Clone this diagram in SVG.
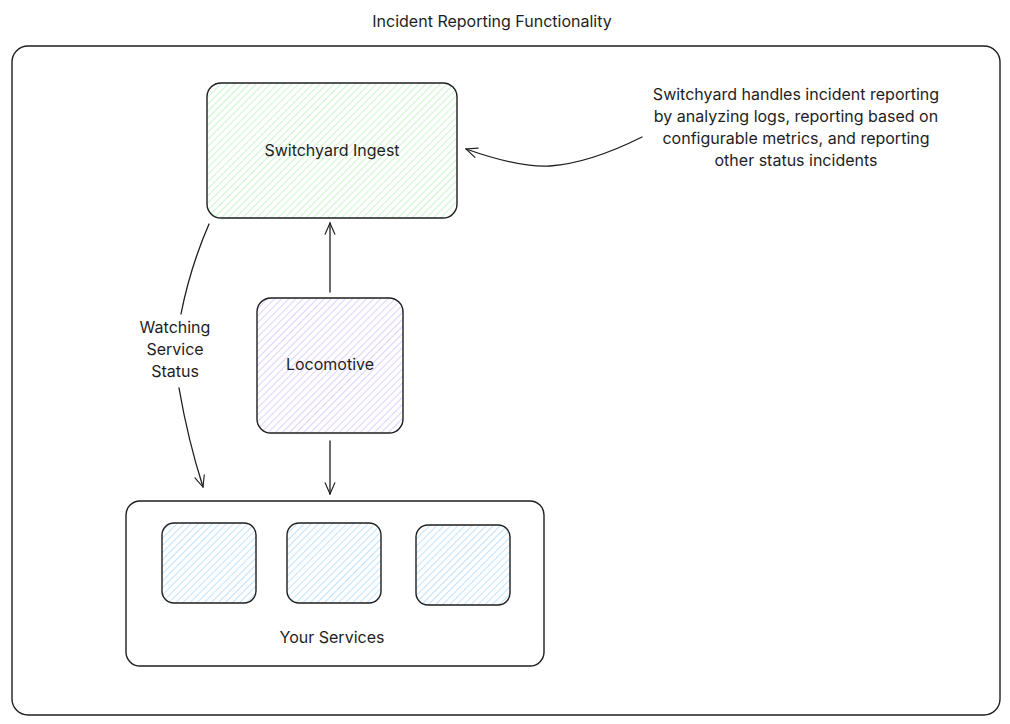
<svg xmlns="http://www.w3.org/2000/svg" width="1010" height="724" viewBox="0 0 1010 724">
<style>
text{font-family:Inter,"Liberation Sans",sans-serif;font-size:16px;fill:#1e1e1e;text-anchor:middle;dominant-baseline:central}
.box{stroke:#1e1e1e;stroke-width:1.4}
.ln{fill:none;stroke:#1e1e1e;stroke-width:1.3;stroke-linecap:round}
</style>
<defs>
<pattern id="hg" patternUnits="userSpaceOnUse" width="5" height="5" patternTransform="rotate(45)"><rect width="5" height="5" fill="#fff"/><line x1="0" y1="0" x2="0" y2="5" stroke="#b2f2bb" stroke-width="1.4"/></pattern>
<pattern id="hp" patternUnits="userSpaceOnUse" width="5" height="5" patternTransform="rotate(45)"><rect width="5" height="5" fill="#fff"/><line x1="0" y1="0" x2="0" y2="5" stroke="#d0bfff" stroke-width="1.4"/></pattern>
<pattern id="hb" patternUnits="userSpaceOnUse" width="5" height="5" patternTransform="rotate(45)"><rect width="5" height="5" fill="#fff"/><line x1="0" y1="0" x2="0" y2="5" stroke="#a5d8ff" stroke-width="1.4"/></pattern>
<marker id="ah" viewBox="0 0 20 20" refX="18" refY="10" markerWidth="14" markerHeight="14" markerUnits="userSpaceOnUse" orient="auto"><path d="M2,3 L18,10 L2,17" fill="none" stroke="#1e1e1e" stroke-width="1.6" stroke-linecap="round"/></marker>
</defs>
<rect width="1010" height="724" fill="#fff"/>
<g id="frame">
<rect x="12" y="46" width="988" height="669" rx="16" fill="none" class="box"/>
<text x="492" y="21">Incident Reporting Functionality</text>
</g>
<g id="switchyard">
<rect x="207" y="83" width="250" height="135" rx="14" fill="url(#hg)" class="box"/>
<text x="332" y="150">Switchyard Ingest</text>
</g>
<g id="locomotive">
<rect x="257" y="298" width="146" height="135" rx="14" fill="url(#hp)" class="box"/>
<text x="330" y="364">Locomotive</text>
</g>
<g id="services">
<rect x="126" y="501" width="418" height="165" rx="14" fill="#fff" class="box"/>
<text x="332" y="637">Your Services</text>
</g>
<g id="svc1"><rect x="162" y="523" width="94" height="80" rx="12" fill="url(#hb)" class="box"/></g>
<g id="svc2"><rect x="287" y="523" width="94" height="80" rx="12" fill="url(#hb)" class="box"/></g>
<g id="svc3"><rect x="416" y="525" width="94" height="80" rx="12" fill="url(#hb)" class="box"/></g>
<g id="note">
<text x="796" y="94">Switchyard handles incident reporting</text>
<text x="796" y="116">by analyzing logs, reporting based on</text>
<text x="796" y="138">configurable metrics, and reporting</text>
<text x="796" y="160">other status incidents</text>
</g>
<g id="connectors">
<path class="ln" d="M330,292 L330,223" marker-end="url(#ah)"/>
<path class="ln" d="M330,441 L330,494" marker-end="url(#ah)"/>
<path class="ln" d="M209,224 Q190,268 181,314"/>
<path class="ln" d="M179,388 Q188,440 203,487" marker-end="url(#ah)"/>
<path class="ln" d="M642,137 Q590,163 550,166 Q520,168 466,149" marker-end="url(#ah)"/>
<text x="175" y="327">Watching</text>
<text x="175" y="349">Service</text>
<text x="175" y="371">Status</text>
</g>
</svg>
